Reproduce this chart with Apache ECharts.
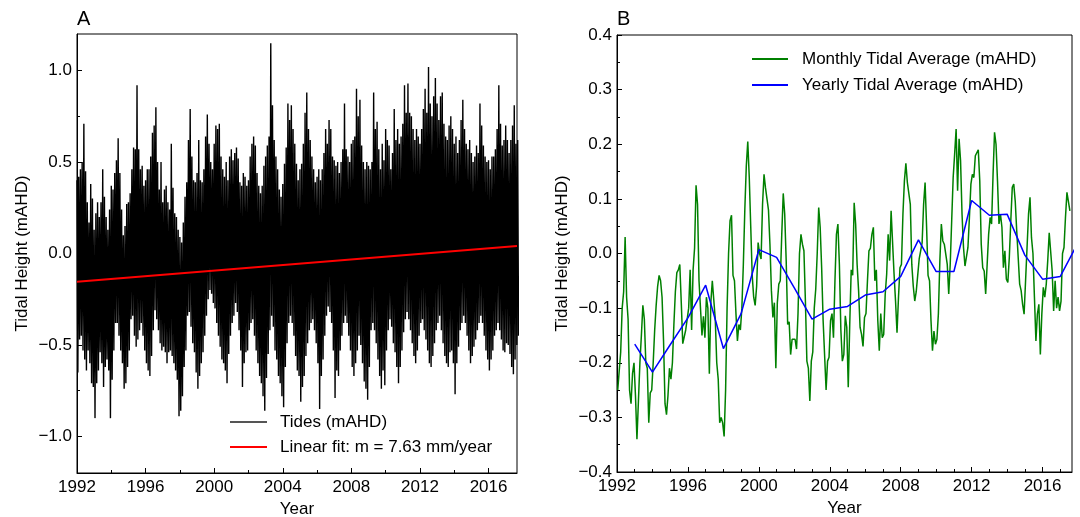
<!DOCTYPE html>
<html><head><meta charset="utf-8">
<script src="https://cdn.jsdelivr.net/npm/echarts@6/dist/echarts.min.js"></script>
<style>html,body{margin:0;padding:0;background:#fff}#c{width:1080px;height:517px}</style>
</head><body><div id="c"></div>
<script>
// ---- Panel A: tide record, envelope read every 0.1 year ----
const tideStart = 1992, tideStep = 0.1;
const tideHigh = [
0.40,0.42,0.46,0.50,0.71,0.45,0.28,0.17,0.38,0.30,
0.13,0.22,0.28,0.20,0.28,0.46,0.31,0.20,0.13,0.24,
0.37,0.35,0.44,0.51,0.63,0.44,0.24,0.10,0.15,0.27,
0.28,0.33,0.46,0.58,0.57,0.92,0.57,0.46,0.48,0.37,
0.40,0.46,0.46,0.53,0.66,0.70,0.80,0.50,0.35,0.50,
0.28,0.35,0.37,0.28,0.24,0.60,0.36,0.22,0.20,0.13,
0.09,0.06,0.17,0.31,0.39,0.62,0.79,0.53,0.40,0.39,
0.44,0.62,0.40,0.39,0.46,0.64,0.76,0.60,0.50,0.46,
0.60,0.70,0.68,0.71,0.53,0.46,0.42,0.50,0.40,0.53,
0.57,0.51,0.55,0.58,0.52,0.39,0.37,0.44,0.42,0.37,
0.40,0.53,0.60,0.64,0.59,0.44,0.37,0.33,0.37,0.48,
0.53,0.59,0.64,1.15,0.81,0.62,0.53,0.46,0.35,0.31,
0.38,0.49,0.58,0.82,0.73,0.81,0.68,0.60,0.49,0.40,
0.46,0.49,0.60,0.77,0.88,0.68,0.62,0.53,0.46,0.39,
0.42,0.46,0.40,0.46,0.55,0.68,0.60,0.73,0.68,0.53,
0.51,0.48,0.50,0.44,0.50,0.57,0.82,0.57,0.53,0.50,
0.60,0.62,0.64,0.90,0.75,0.84,0.59,0.50,0.46,0.50,
0.48,0.46,0.50,0.88,0.68,0.72,0.57,0.46,0.60,0.51,
0.68,0.62,0.59,0.46,0.55,0.79,0.62,0.68,0.60,0.64,
0.71,0.92,0.77,0.93,0.77,0.75,0.68,0.62,0.68,0.64,
0.60,0.68,0.79,0.90,0.77,1.02,0.82,0.75,0.86,0.96,
0.82,0.73,0.86,0.88,0.71,0.64,0.62,0.70,0.75,0.68,
0.60,0.64,0.55,0.62,0.73,0.84,0.68,0.60,0.57,0.62,
0.55,0.50,0.53,0.59,0.55,0.82,0.70,0.59,0.53,0.50,
0.51,0.46,0.53,0.53,0.57,0.68,0.92,0.71,0.59,0.62,
0.70,0.62,0.55,0.62,0.70,0.81,0.60,0.62];
const tideLow = [
-0.65,-0.47,-0.45,-0.53,-0.58,-0.64,-0.53,-0.60,-0.71,-0.73,
-0.90,-0.71,-0.64,-0.54,-0.60,-0.73,-0.62,-0.58,-0.64,-0.90,
-0.69,-0.53,-0.38,-0.38,-0.45,-0.53,-0.60,-0.74,-0.71,-0.62,
-0.53,-0.36,-0.34,-0.45,-0.51,-0.47,-0.42,-0.38,-0.45,-0.53,
-0.60,-0.64,-0.67,-0.56,-0.42,-0.31,-0.36,-0.42,-0.49,-0.53,
-0.51,-0.54,-0.60,-0.54,-0.53,-0.56,-0.60,-0.64,-0.69,-0.89,
-0.86,-0.78,-0.62,-0.53,-0.34,-0.32,-0.40,-0.49,-0.54,-0.65,
-0.74,-0.67,-0.60,-0.54,-0.45,-0.34,-0.25,-0.20,-0.22,-0.27,
-0.30,-0.38,-0.45,-0.51,-0.58,-0.60,-0.64,-0.71,-0.55,-0.45,
-0.38,-0.34,-0.27,-0.32,-0.42,-0.53,-0.73,-0.60,-0.54,-0.53,
-0.42,-0.38,-0.36,-0.45,-0.53,-0.60,-0.67,-0.71,-0.78,-0.86,
-0.68,-0.55,-0.42,-0.34,-0.40,-0.53,-0.58,-0.67,-0.71,-0.78,
-0.84,-0.62,-0.49,-0.38,-0.34,-0.38,-0.45,-0.56,-0.64,-0.67,
-0.81,-0.73,-0.67,-0.56,-0.49,-0.42,-0.38,-0.36,-0.42,-0.49,
-0.60,-0.85,-0.67,-0.58,-0.45,-0.34,-0.29,-0.32,-0.38,-0.53,
-0.79,-0.64,-0.67,-0.53,-0.45,-0.38,-0.34,-0.38,-0.45,-0.53,
-0.62,-0.67,-0.60,-0.53,-0.45,-0.50,-0.60,-0.70,-0.74,-0.80,
-0.62,-0.42,-0.38,-0.42,-0.49,-0.58,-0.67,-0.74,-0.64,-0.72,
-0.53,-0.42,-0.36,-0.40,-0.49,-0.54,-0.62,-0.71,-0.62,-0.53,
-0.43,-0.36,-0.32,-0.36,-0.42,-0.49,-0.56,-0.60,-0.53,-0.45,
-0.38,-0.36,-0.42,-0.47,-0.53,-0.60,-0.62,-0.56,-0.49,-0.42,
-0.38,-0.34,-0.42,-0.49,-0.56,-0.60,-0.62,-0.54,-0.53,-0.60,
-0.77,-0.60,-0.51,-0.42,-0.38,-0.34,-0.38,-0.45,-0.53,-0.60,
-0.56,-0.51,-0.47,-0.42,-0.38,-0.34,-0.38,-0.45,-0.53,-0.58,
-0.64,-0.58,-0.53,-0.45,-0.42,-0.38,-0.42,-0.47,-0.53,-0.54,
-0.49,-0.50,-0.55,-0.62,-0.66,-0.58,-0.50,-0.45];
const fitYears = [1992, 2017.66];
const fitValues = [-0.155, 0.041];

// ---- Panel B: monthly (from Jan 1992) and yearly averages ----
const monthlyStart = 1992;
const monthlyValues = [
-0.25,-0.25,-0.18,-0.10,-0.07,0.03,-0.08,-0.12,-0.25,-0.275,
-0.22,-0.20,-0.26,-0.34,-0.27,-0.20,-0.15,-0.095,-0.12,-0.20,
-0.21,-0.31,-0.255,-0.25,-0.20,-0.14,-0.095,-0.06,-0.04,-0.05,
-0.08,-0.16,-0.275,-0.295,-0.26,-0.21,-0.23,-0.20,-0.13,-0.07,
-0.035,-0.03,-0.02,-0.09,-0.165,-0.165,-0.14,-0.12,-0.10,-0.03,
-0.14,-0.03,0.01,0.125,0.09,-0.05,-0.05,-0.15,-0.115,-0.154,
-0.08,-0.10,-0.22,-0.09,-0.05,-0.047,-0.12,-0.20,-0.23,-0.31,
-0.30,-0.31,-0.335,-0.25,-0.10,0.0,0.06,0.07,-0.04,-0.05,
-0.11,-0.16,-0.13,-0.14,-0.10,-0.02,0.08,0.16,0.205,0.14,
0.05,-0.04,-0.08,-0.095,-0.06,0.02,0.0,-0.01,0.09,0.145,
0.12,0.10,0.08,0.017,-0.068,-0.117,-0.09,-0.21,-0.09,-0.056,
-0.05,0.035,0.11,0.072,-0.013,-0.13,-0.125,-0.185,-0.157,-0.157,
-0.157,-0.175,-0.11,0.0,0.035,0.017,0.005,-0.087,-0.197,-0.21,
-0.27,-0.197,-0.18,-0.10,-0.065,0.0,0.084,0.048,-0.026,-0.123,
-0.126,-0.25,-0.197,-0.19,-0.123,-0.11,-0.154,-0.05,0.035,0.054,
-0.02,-0.14,-0.197,-0.185,-0.114,-0.135,-0.245,-0.13,-0.03,-0.04,
0.093,0.054,-0.02,-0.068,-0.135,-0.148,-0.17,-0.117,-0.11,-0.05,
0.005,0.01,0.035,0.048,-0.05,-0.03,-0.123,-0.178,-0.11,-0.154,
-0.148,-0.075,-0.038,0.035,-0.013,0.078,0.078,-0.038,-0.087,-0.145,
-0.08,-0.026,-0.02,0.072,0.133,0.165,0.13,0.128,0.09,-0.02,
-0.06,-0.087,-0.07,-0.04,-0.01,0.005,0.02,0.09,0.13,0.05,
-0.04,-0.05,-0.123,-0.178,-0.142,-0.166,-0.157,-0.11,-0.013,0.054,
0.023,0.017,0.02,-0.02,-0.074,-0.02,0.06,0.139,0.182,0.228,
0.115,0.21,0.17,0.072,0.011,-0.023,-0.026,0.011,0.066,0.127,
0.145,0.139,0.179,0.182,0.19,0.133,0.017,-0.026,-0.032,-0.074,
-0.02,0.035,0.066,0.054,0.145,0.222,0.2,0.133,0.054,0.072,
0.048,-0.026,0.005,-0.047,-0.053,-0.007,0.06,0.121,0.127,0.096,
0.042,-0.007,-0.056,-0.068,-0.093,-0.111,-0.05,0.011,0.072,0.103,
0.029,0.0,-0.08,-0.16,-0.111,-0.093,-0.185,-0.111,-0.062,-0.08,
-0.056,-0.013,0.038,0.035,-0.032,-0.105,-0.05,-0.1,-0.08,-0.105,
-0.087,0.0,0.011,0.066,0.112,0.109,0.078];
const yearlyYears = [1993,1994,1995,1996,1997,1998,1999,2000,2001,2002,2003,2004,2005,
  2006,2007,2008,2009,2010,2011,2012,2013,2014,2015,2016,2017,2018];
const yearlyValues = [-0.166,-0.217,-0.167,-0.118,-0.058,-0.174,-0.110,0.007,-0.007,-0.063,
  -0.120,-0.102,-0.097,-0.076,-0.070,-0.042,0.025,-0.033,-0.033,0.097,0.070,0.072,
  -0.003,-0.047,-0.042,0.020];

// ---- tick values ----
const xMajorTicks = [1992,1996,2000,2004,2008,2012,2016];
const xMinorTicksA = [1994,1998,2002,2006,2010,2014];
const xMinorTicksB = [1993,1994,1995,1997,1998,1999,2001,2002,2003,2005,2006,2007,
  2009,2010,2011,2013,2014,2015,2017];
const yMajorTicksA = [-1.0,-0.5,0.0,0.5,1.0];
const yMinorTicksA = [-0.75,-0.25,0.25,0.75];
const yMajorTicksB = [-0.4,-0.3,-0.2,-0.1,0.0,0.1,0.2,0.3,0.4];
const yMinorTicksB = [-0.35,-0.25,-0.15,-0.05,0.05,0.15,0.25,0.35];

// ---- build series data ----
const tideData = [];
for (let i = 0; i < tideHigh.length; i++) {
  const t = tideStart + i * tideStep;
  tideData.push([t, tideHigh[i]]);
  tideData.push([t + tideStep / 2, tideLow[i]]);
}
const fitData = fitYears.map((t, i) => [t, fitValues[i]]);
const monthlyData = monthlyValues.map((v, m) => [monthlyStart + (m + 0.5) / 12, v]);
const yearlyData = yearlyYears.map((t, i) => [t, yearlyValues[i]]);

const FONT = 'Liberation Sans, Arial, sans-serif';
const fmt = v => (v < -1e-9 ? '\u2212' : '') + Math.abs(v).toFixed(1);
const XMAX = 2017.66;

function xMajor(gi) {
  return {gridIndex: gi, type: 'value', position: 'bottom', min: 1992, max: XMAX,
    axisLine: {show: true, onZero: false, lineStyle: {color: '#000', width: 1}},
    axisTick: {inside: true, length: 5, customValues: xMajorTicks, lineStyle: {color: '#000'}},
    axisLabel: {customValues: xMajorTicks, formatter: v => String(Math.round(v)),
      fontSize: 17, color: '#000', fontFamily: FONT, margin: 6},
    splitLine: {show: false},
    name: 'Year', nameLocation: 'middle', nameGap: 27,
    nameTextStyle: {fontSize: 17, color: '#000', fontFamily: FONT}};
}
function xMinor(gi, ticks) {
  return {gridIndex: gi, type: 'value', position: 'bottom', min: 1992, max: XMAX,
    axisLine: {show: false, onZero: false}, axisLabel: {show: false}, splitLine: {show: false},
    axisTick: {inside: true, length: 3, customValues: ticks, lineStyle: {color: '#000'}}};
}
function yMajor(gi, min, max, ticks) {
  return {gridIndex: gi, type: 'value', position: 'left', min: min, max: max,
    axisLine: {show: true, onZero: false, lineStyle: {color: '#000', width: 1}},
    axisTick: {inside: true, length: 5, customValues: ticks, lineStyle: {color: '#000'}},
    axisLabel: {customValues: ticks, formatter: fmt, fontSize: 17, color: '#000', fontFamily: FONT, margin: 5},
    splitLine: {show: false},
    name: 'Tidal Height (mAHD)', nameLocation: 'middle', nameRotate: 90, nameGap: 46,
    nameTextStyle: {fontSize: 17, color: '#000', fontFamily: FONT}};
}
function yMinor(gi, min, max, ticks) {
  return {gridIndex: gi, type: 'value', position: 'left', min: min, max: max,
    axisLine: {show: false, onZero: false}, axisLabel: {show: false}, splitLine: {show: false},
    axisTick: {inside: true, length: 3, customValues: ticks, lineStyle: {color: '#000'}}};
}

const chart = echarts.init(document.getElementById('c'), null, {renderer: 'canvas'});
chart.setOption({
  animation: false,
  backgroundColor: '#fff',
  textStyle: {fontFamily: FONT},
  title: [
    {text: 'A', left: 77, top: 9, padding: 0, textStyle: {fontSize: 20, fontWeight: 'normal', color: '#000', fontFamily: FONT}},
    {text: 'B', left: 617, top: 9, padding: 0, textStyle: {fontSize: 20, fontWeight: 'normal', color: '#000', fontFamily: FONT}}
  ],
  grid: [
    {left: 77, top: 34, width: 440, height: 439, show: true, borderColor: '#000', borderWidth: 1,
     backgroundColor: 'transparent', containLabel: false, outerBoundsMode: 'none'},
    {left: 617, top: 35, width: 455, height: 437, show: true, borderColor: '#000', borderWidth: 1,
     backgroundColor: 'transparent', containLabel: false, outerBoundsMode: 'none'}
  ],
  xAxis: [xMajor(0), xMinor(0, xMinorTicksA), xMajor(1), xMinor(1, xMinorTicksB)],
  yAxis: [yMajor(0, -1.2, 1.2, yMajorTicksA), yMinor(0, -1.2, 1.2, yMinorTicksA),
          yMajor(1, -0.4, 0.4, yMajorTicksB), yMinor(1, -0.4, 0.4, yMinorTicksB)],
  legend: [
    {data: [{name: 'Tides (mAHD)', icon: 'rect', itemStyle: {color: '#555'}},
            {name: 'Linear fit: m = 7.63 mm/year', icon: 'rect', itemStyle: {color: '#ff0000'}}],
     orient: 'vertical', left: 230, top: 412, padding: 0, itemWidth: 37, itemHeight: 2, itemGap: 5,
     selectedMode: false,
     textStyle: {fontSize: 17, color: '#000', fontFamily: FONT, lineHeight: 20, padding: [0, 0, 0, 8]}},
    {data: [{name: 'Monthly Tidal Average (mAHD)', icon: 'rect', itemStyle: {color: '#008000'}},
            {name: 'Yearly Tidal Average (mAHD)', icon: 'rect', itemStyle: {color: '#0000ff'}}],
     orient: 'vertical', left: 752, top: 49, padding: 0, itemWidth: 36, itemHeight: 2, itemGap: 6,
     selectedMode: false,
     textStyle: {fontSize: 17, color: '#000', fontFamily: FONT, lineHeight: 20, padding: [0, 0, 0, 9]}}
  ],
  series: [
    {name: 'Tides (mAHD)', type: 'line', xAxisIndex: 0, yAxisIndex: 0, data: tideData,
     symbol: 'none', showSymbol: false, clip: true, lineStyle: {color: '#000', width: 1.4},
     itemStyle: {color: '#000'}, z: 2},
    {name: 'Linear fit: m = 7.63 mm/year', type: 'line', xAxisIndex: 0, yAxisIndex: 0, data: fitData,
     symbol: 'none', showSymbol: false, clip: true, lineStyle: {color: '#ff0000', width: 2},
     itemStyle: {color: '#ff0000'}, z: 3},
    {name: 'Monthly Tidal Average (mAHD)', type: 'line', xAxisIndex: 2, yAxisIndex: 2, data: monthlyData,
     symbol: 'none', showSymbol: false, clip: true, lineStyle: {color: '#008000', width: 1.5},
     itemStyle: {color: '#008000'}, z: 2},
    {name: 'Yearly Tidal Average (mAHD)', type: 'line', xAxisIndex: 2, yAxisIndex: 2, data: yearlyData,
     symbol: 'none', showSymbol: false, clip: true, lineStyle: {color: '#0000ff', width: 1.5},
     itemStyle: {color: '#0000ff'}, z: 3}
  ]
});
</script>
</body></html>
